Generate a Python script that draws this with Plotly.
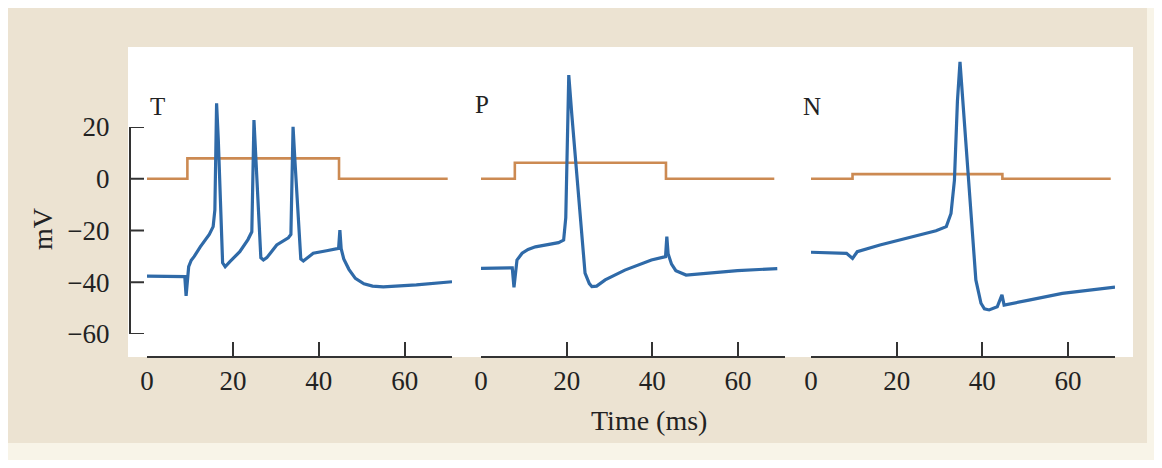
import plotly.graph_objects as go

# page body has an 8px margin: lay out in reference pixel coords and shift by it
OX, OY = 8, 8
FW, FH = 1154, 452

# ---- data ----
t_T = [0, 8.8, 9.1, 9.4, 9.7, 10.3, 11, 12.4, 13.5, 14.5, 15.4, 15.8, 16.2, 16.6, 17.6, 18.2, 19.3, 21.6,
       23.5, 24.4, 24.9, 25.3, 26.5, 27.1, 27.9, 30.2, 32.9, 33.5, 34.0, 34.4, 35.8, 36.4, 37.0, 38.7, 41.8,
       44.6, 44.9, 45.2, 45.8, 47, 48.5, 50.5, 52.5, 55, 62.7, 71]
v_T = [-37.6, -37.8, -45.3, -40, -34, -31.5, -30, -26.3, -24, -21.5, -18.5, -12, 29.2, 15, -32.5, -34, -32, -28.2,
       -23.5, -20.5, 22.7, 10, -30.5, -31.4, -30.5, -25.6, -22.8, -21.5, 20.1, 8, -31, -31.8, -31, -28.8, -27.8,
       -26.9, -19.8, -27, -31, -35, -38.5, -40.6, -41.5, -41.8, -41, -39.8]

t_P = [0, 7.3, 7.7, 8.0, 8.4, 9.6, 11, 12.7, 15, 18.1, 19.3, 19.8, 20.5, 21.2, 24.3, 25.3, 25.9, 27, 29,
       33.6, 39.8, 43.1, 43.4, 43.7, 44.5, 45.5, 47.9, 52.2, 59.9, 69.2]
v_P = [-34.6, -34.4, -42, -36, -31.4, -28.8, -27.3, -26.3, -25.5, -24.7, -23.7, -15, 40.1, 25, -36.5, -40.5,
       -41.7, -41.5, -39.1, -35.3, -31.4, -30.1, -22.4, -29, -33, -35.5, -37.2, -36.5, -35.5, -34.7]

t_N = [0, 8.3, 9.7, 10.8, 16.1, 23.8, 29.2, 31.6, 32.7, 33.5, 34.2, 34.8, 35.5, 36.6, 38.5, 39.7, 40.5,
       41.6, 43.5, 44.6, 45.1, 50.9, 58.7, 71]
v_N = [-28.4, -28.8, -30.8, -28.2, -25.6, -22.4, -20.1, -18.5, -13.4, -0.5, 30, 45.2, 30, 2.1, -39.1, -48.1,
       -50.3, -50.7, -49.5, -44.9, -48.8, -46.9, -44.3, -41.9]

stim_t_T = [0, 9.4, 44.7, 70]
stim_v_T = [0, 7.9, 0, 0]
stim_t_P = [0, 7.9, 43.2, 68.5]
stim_v_P = [0, 6.2, 0, 0]
stim_t_N = [0, 9.7, 44.7, 70]
stim_v_N = [0, 1.8, 0, 0]

panel_labels = ["T", "P", "N"]
x_ticks = [0, 20, 40, 60]
y_ticks = [-60, -40, -20, 0, 20]

BLUE = "#2f6aa8"
ORANGE = "#cc8a52"
AX = "#333333"
TXT = "#222222"
FONT = "Liberation Serif"

def px(x):
    return (x - OX) / FW

def py(y):
    return 1 - (y - OY) / FH

fig = go.Figure()

panels = [(t_T, v_T, stim_t_T, stim_v_T), (t_P, v_P, stim_t_P, stim_v_P), (t_N, v_N, stim_t_N, stim_v_N)]
domains = [(147, 452), (481, 785), (811, 1115)]

for i, (tb, vb, ts, vs) in enumerate(panels):
    xa = "x" if i == 0 else f"x{i+1}"
    ya = "y" if i == 0 else f"y{i+1}"
    fig.add_trace(go.Scatter(x=ts, y=vs, mode="lines", line=dict(color=ORANGE, width=2.6, shape="hv"),
                             xaxis=xa, yaxis=ya, hoverinfo="skip"))
    fig.add_trace(go.Scatter(x=tb, y=vb, mode="lines", line=dict(color=BLUE, width=3.2),
                             xaxis=xa, yaxis=ya, hoverinfo="skip"))

# dummy trace for the short y axis
fig.add_trace(go.Scatter(x=[None], y=[None], xaxis="x", yaxis="y4", hoverinfo="skip"))

ydom = [py(356), py(49.4)]
layout = dict(
    width=FW, height=FH, margin=dict(l=0, r=0, t=0, b=0, pad=0, autoexpand=False),
    paper_bgcolor="#f8f4e8", plot_bgcolor="rgba(0,0,0,0)",
    showlegend=False, hovermode=False,
    font=dict(family=FONT, size=27, color=TXT),
)
for i, (a, b) in enumerate(domains):
    n = "" if i == 0 else str(i + 1)
    layout[f"xaxis{n}"] = dict(
        domain=[px(a), px(b)], range=[0, 71], anchor=f"y{n}", automargin=False,
        showline=True, linecolor=AX, linewidth=2, showgrid=False, zeroline=False,
        ticks="inside", ticklen=14, tickwidth=2, tickcolor=AX,
        tickvals=x_ticks, ticklabelstandoff=0,
        tickfont=dict(family=FONT, size=27, color=TXT), fixedrange=True,
    )
    layout[f"yaxis{n}"] = dict(domain=ydom, range=[-68.5, 50], visible=False, anchor=f"x{n}",
                               automargin=False, fixedrange=True)

layout["yaxis4"] = dict(
    domain=[py(334), py(127)], range=[-60, 20], anchor="free", position=px(130), side="left",
    automargin=False,
    showline=True, linecolor=AX, linewidth=2, showgrid=False, zeroline=False,
    ticks="", tickvals=y_ticks,
    ticklabelstandoff=14, tickfont=dict(family=FONT, size=27, color=TXT), fixedrange=True,
)

shapes = [
    dict(type="rect", xref="paper", yref="paper", x0=px(8), x1=px(1147), y0=py(443), y1=py(8),
         fillcolor="#ece3d2", line=dict(width=0), layer="below"),
    dict(type="rect", xref="paper", yref="paper", x0=px(128), x1=px(1133), y0=py(357), y1=py(47),
         fillcolor="#ffffff", line=dict(width=0), layer="below"),
]
# y-axis tick marks pointing right, placed through the y4 scale
for v in y_ticks:
    shapes.append(dict(type="line", xref="paper", yref="y4", x0=px(129), x1=px(144), y0=v, y1=v,
                       line=dict(color=AX, width=2)))
layout["shapes"] = shapes

label_pos = [(157, 106), (482, 105), (812, 106)]
annotations = []
for lab, (x, y) in zip(panel_labels, label_pos):
    annotations.append(dict(text=lab, x=px(x), y=py(y), xref="paper", yref="paper", showarrow=False,
                            xanchor="center", yanchor="middle", font=dict(family=FONT, size=25, color=TXT)))
annotations.append(dict(text="Time (ms)", x=px(649), y=py(420), xref="paper", yref="paper", showarrow=False,
                        xanchor="center", yanchor="middle", font=dict(family=FONT, size=28, color=TXT)))
annotations.append(dict(text="mV", x=px(43), y=py(229), xref="paper", yref="paper", showarrow=False,
                        xanchor="center", yanchor="middle", textangle=-90,
                        font=dict(family=FONT, size=28, color=TXT)))
layout["annotations"] = annotations

fig.update_layout(**layout)
fig.write_html("out.html")
